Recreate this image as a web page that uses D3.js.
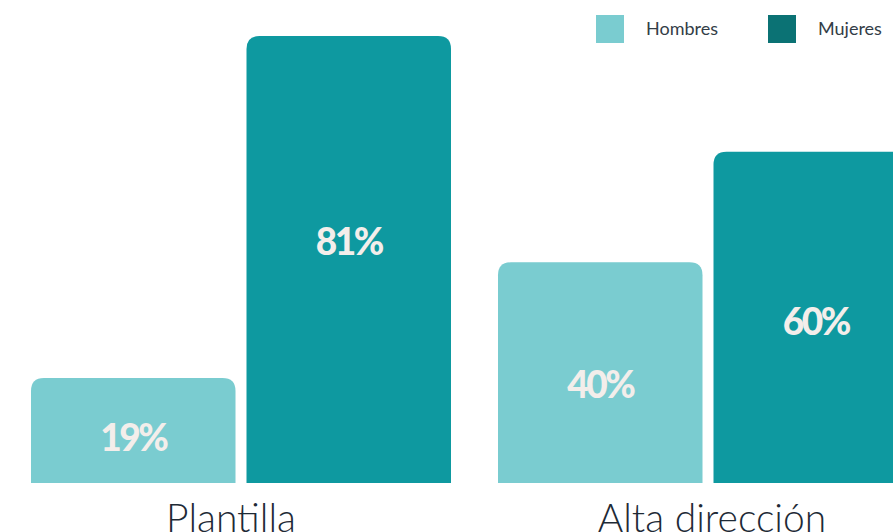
<!DOCTYPE html>
<html>
<head>
<meta charset="utf-8">
<script src="https://cdn.jsdelivr.net/npm/d3@7"></script>
<style>
  html, body { margin: 0; padding: 0; background: #ffffff; overflow: hidden; }
  svg { display: block; }
</style>
</head>
<body>
<svg id="chart" width="893" height="532"></svg>
<script>
// Categories and series
const categories = ["Plantilla", "Alta dirección"];
const seriesNames = ["Hombres", "Mujeres"];
const hombres = [19, 40];
const mujeres = [81, 60];

const barColors = { Hombres: "#7accd0", Mujeres: "#0e99a0" };
const legendColors = { Hombres: "#7accd0", Mujeres: "#0b7274" };

const svg = d3.select("#chart");

const baseline = 483;
// Groups run past the right edge; the last bar is partly cut off
const x0 = d3.scaleBand().domain(categories).range([31, 918]).paddingInner(47 / 467).paddingOuter(0);
const x1 = d3.scaleBand().domain(seriesNames).range([0, x0.bandwidth()]).paddingInner(11 / 215.5);
const y = d3.scaleLinear().domain([0, 100]).range([baseline, baseline - 552]);
// Category captions sit under their groups
const xLabel = d3.scalePoint().domain(categories).range([231, 712]);

const rows = categories.map((c, i) => ({
  category: c,
  values: [
    { key: "Hombres", value: hombres[i] },
    { key: "Mujeres", value: mujeres[i] }
  ]
}));

// Bar with rounded top corners
function topRounded(x, yTop, w, yBottom, r) {
  const rr = Math.min(r, w / 2, yBottom - yTop);
  return `M${x},${yBottom}V${yTop + rr}Q${x},${yTop} ${x + rr},${yTop}` +
         `H${x + w - rr}Q${x + w},${yTop} ${x + w},${yTop + rr}V${yBottom}Z`;
}

const groups = svg.selectAll("g.group").data(rows).join("g")
  .attr("class", "group")
  .attr("transform", d => `translate(${x0(d.category)},0)`);

groups.selectAll("path.bar").data(d => d.values).join("path")
  .attr("class", "bar")
  .attr("fill", d => barColors[d.key])
  .attr("d", d => topRounded(x1(d.key), y(d.value), x1.bandwidth(), y(0), 13));

// Value labels inside the bars: taller bars carry their label higher up
const labelRise = v => 0.01625 * v * v + 1.54 * v + 10.4;
groups.selectAll("text.val").data(d => d.values).join("text")
  .attr("class", "val")
  .attr("x", d => x1(d.key) + x1.bandwidth() / 2)
  .attr("y", d => y(0) - labelRise(d.value))
  .attr("dy", "0.36em")
  .attr("text-anchor", "middle")
  .attr("fill", "#f3eeeb")
  .style("font-family", "Lato, 'Open Sans', sans-serif")
  .style("font-weight", 900)
  .style("font-size", "37px")
  .style("letter-spacing", "-2.5px")
  .text(d => d.value + "%");

// Category labels
svg.selectAll("text.cat").data(categories).join("text")
  .attr("class", "cat")
  .attr("x", d => xLabel(d))
  .attr("y", 532)
  .attr("text-anchor", "middle")
  .attr("fill", "#1e2a36")
  .style("font-family", "Lato, 'Open Sans', sans-serif")
  .style("font-weight", 300)
  .style("font-size", "39px")
  .text(d => d);

// Legend
const legend = svg.append("g").attr("class", "legend");
const legendX = d3.scalePoint().domain(seriesNames).range([596, 768]);
const item = legend.selectAll("g").data(seriesNames).join("g")
  .attr("transform", d => `translate(${legendX(d)},15)`);
item.append("rect").attr("width", 28).attr("height", 28)
  .attr("fill", d => legendColors[d]);
item.append("text")
  .attr("x", 50).attr("y", 14).attr("dy", "0.35em")
  .attr("fill", "#333d47")
  .style("font-family", "Lato, 'Open Sans', sans-serif")
  .style("font-size", "18px")
  .text(d => d);
</script>
</body>
</html>
